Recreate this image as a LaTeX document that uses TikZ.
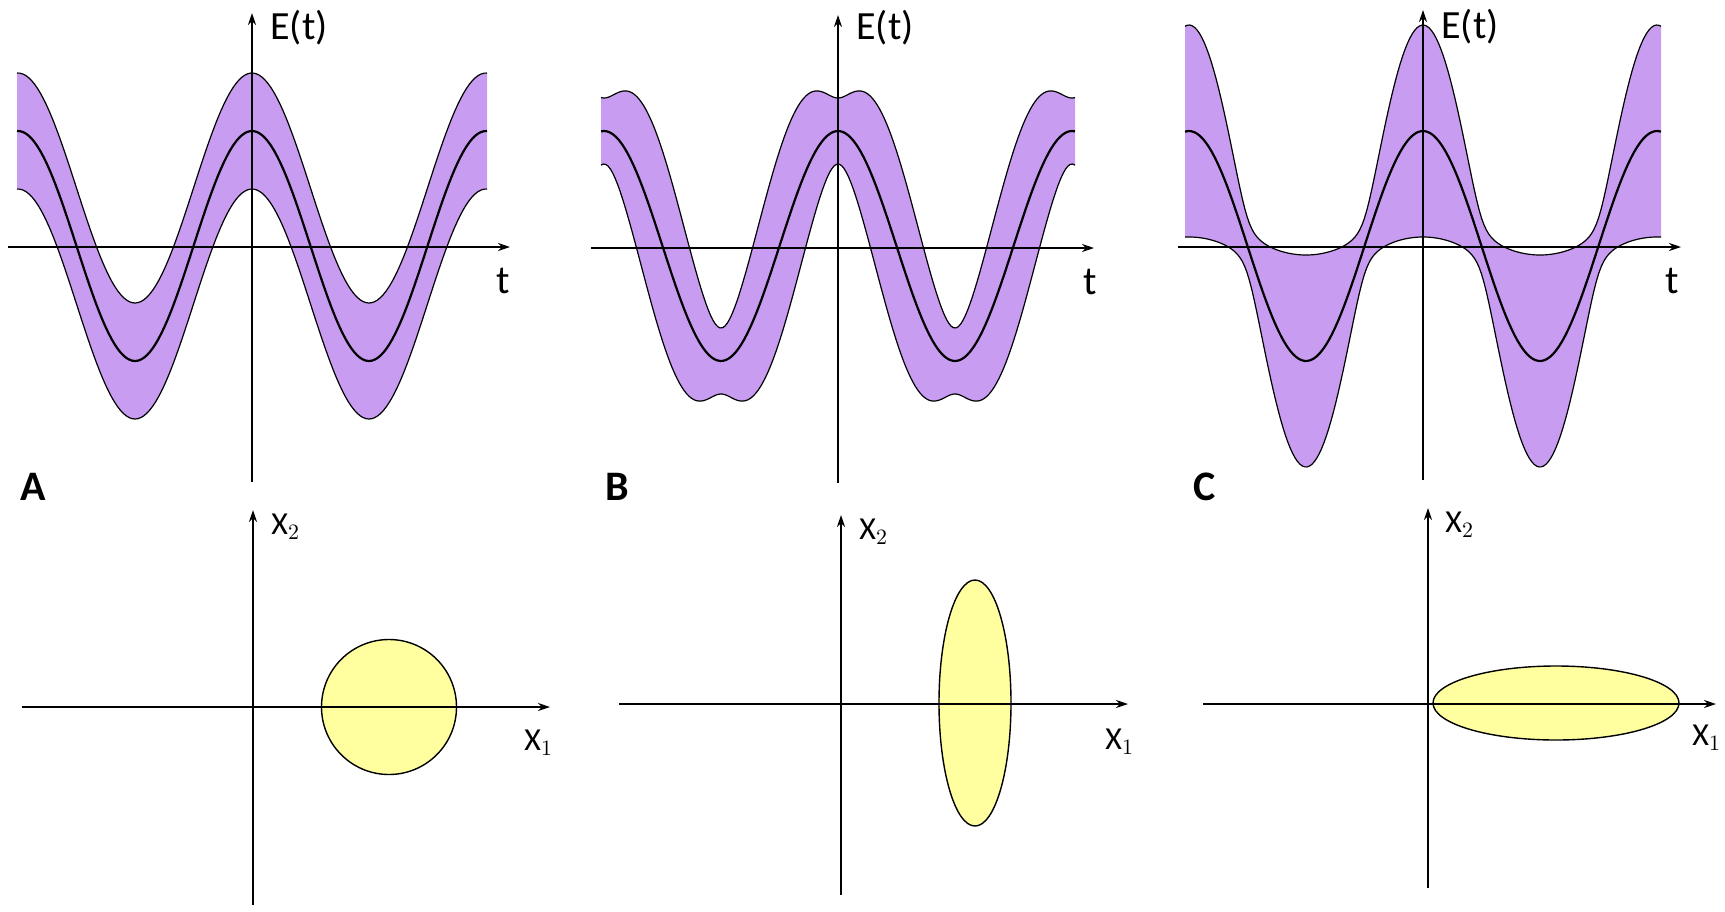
\documentclass[tikz,border=0pt]{standalone}
\usepackage{fontspec}
\setmainfont{Carlito}
\usetikzlibrary{arrows.meta,shapes.geometric}
\definecolor{band}{RGB}{200,156,240}
\definecolor{blob}{RGB}{255,255,160}
\tikzset{
  ax/.style={line width=1pt,-{Stealth[length=6pt,width=4pt]}},
  env/.style={line width=0.6pt},
  mean/.style={line width=1.1pt},
  lab/.style={font=\fontsize{20}{22}\selectfont,anchor=west,inner sep=0pt},
  xlab/.style={font=\fontsize{16}{18}\selectfont,anchor=west,inner sep=0pt},
  plab/.style={font=\fontsize{21}{23}\selectfont\bfseries,inner sep=0pt},
  ell/.style={draw=black,line width=0.7pt,fill=blob}
}
\begin{document}
\begin{tikzpicture}[x=0.5pt,y=-0.5pt,
  declare function={ph(\t)=1.538462*\t; mu(\t)=246-115*cos(ph(\t));
    sB(\t)=sqrt((0.33*cos(ph(\t)))^2+(0.95*sin(ph(\t)))^2)*100;
    sC(\t)=sqrt((1.06*cos(ph(\t)))^2+(0.28*sin(ph(\t)))^2)*100;}]
\useasboundingbox (0,0) rectangle (1725,911);
% ---------- Panel A top
\begin{scope}[shift={(252,0)}]
\fill[band] plot[domain=-235:235,samples=160] (\x,{mu(\x)-58})
 -- plot[domain=235:-235,samples=160] (\x,{mu(\x)+58}) -- cycle;
\draw[env] plot[domain=-235:235,samples=160] (\x,{mu(\x)-58});
\draw[env] plot[domain=-235:235,samples=160] (\x,{mu(\x)+58});
\draw[mean] plot[domain=-235:235,samples=160] (\x,{mu(\x)});
\coordinate (aL) at (-244,247); \coordinate (aR) at (258,247);
\coordinate (aB) at (0,482); \coordinate (aT) at (0,13);
\draw[ax] (aL) -- (aR);
\draw[ax] (aB) -- (aT);
\node[lab] (aE) at (18,28) {E(t)};
\node[lab] (at) at (244,281) {t};
\end{scope}
\node[plab] (pA) at (33,487) {A};
% ---------- Panel B top
\begin{scope}[shift={(838,0)}]
\fill[band] plot[domain=-237:237,samples=200] (\x,{mu(\x)-sB(\x)})
 -- plot[domain=237:-237,samples=200] (\x,{mu(\x)+sB(\x)}) -- cycle;
\draw[env] plot[domain=-237:237,samples=200] (\x,{mu(\x)-sB(\x)});
\draw[env] plot[domain=-237:237,samples=200] (\x,{mu(\x)+sB(\x)});
\draw[mean] plot[domain=-237:237,samples=160] (\x,{mu(\x)});
\coordinate (bL) at (-247,248); \coordinate (bR) at (256,248);
\coordinate (bB) at (0,483); \coordinate (bT) at (0,15);
\draw[ax] (bL) -- (bR);
\draw[ax] (bB) -- (bT);
\node[lab] (bE) at (18,28) {E(t)};
\node[lab] (bt) at (245,282) {t};
\end{scope}
\node[plab] (pB) at (617,487) {B};
% ---------- Panel C top
\begin{scope}[shift={(1423,0)}]
\fill[band] plot[domain=-238:238,samples=200] (\x,{mu(\x)-sC(\x)})
 -- plot[domain=238:-238,samples=200] (\x,{mu(\x)+sC(\x)}) -- cycle;
\draw[env] plot[domain=-238:238,samples=200] (\x,{mu(\x)-sC(\x)});
\draw[env] plot[domain=-238:238,samples=200] (\x,{mu(\x)+sC(\x)});
\draw[mean] plot[domain=-238:238,samples=160] (\x,{mu(\x)});
\coordinate (cL) at (-245,247); \coordinate (cR) at (258,247);
\coordinate (cB) at (0,480); \coordinate (cT) at (0,10);
\draw[ax] (cL) -- (cR);
\draw[ax] (cB) -- (cT);
\node[lab] (cE) at (18,27) {E(t)};
\node[lab] (ct) at (242,281) {t};
\end{scope}
\node[plab] (pC) at (1205,487) {C};
% ---------- Bottom panels
\node[ell,ellipse,minimum width=67.5pt,minimum height=67.5pt,inner sep=0pt] (eA) at (389,707) {};
\coordinate (dL) at (22,707); \coordinate (dR) at (550,707);
\coordinate (dB) at (253,905); \coordinate (dT) at (253,510);
\draw[ax] (dL) -- (dR); \draw[ax] (dB) -- (dT);
\node[xlab] (dX2) at (271,527) {X$_2$};
\node[xlab] (dX1) at (524,743) {X$_1$};

\node[ell,ellipse,minimum width=36pt,minimum height=123pt,inner sep=0pt] (eB) at (975,703) {};
\coordinate (fL) at (619,704); \coordinate (fR) at (1128,704);
\coordinate (fB) at (841,895); \coordinate (fT) at (841,515);
\draw[ax] (fL) -- (fR); \draw[ax] (fB) -- (fT);
\node[xlab] (fX2) at (859,532) {X$_2$};
\node[xlab] (fX1) at (1105,742) {X$_1$};

\node[ell,ellipse,minimum width=123pt,minimum height=37pt,inner sep=0pt] (eC) at (1556,703) {};
\coordinate (gL) at (1203,704); \coordinate (gR) at (1716,704);
\coordinate (gB) at (1428,888); \coordinate (gT) at (1428,508);
\draw[ax] (gL) -- (gR); \draw[ax] (gB) -- (gT);
\node[xlab] (gX2) at (1445,525) {X$_2$};
\node[xlab] (gX1) at (1692,738) {X$_1$};
\end{tikzpicture}
\end{document}
